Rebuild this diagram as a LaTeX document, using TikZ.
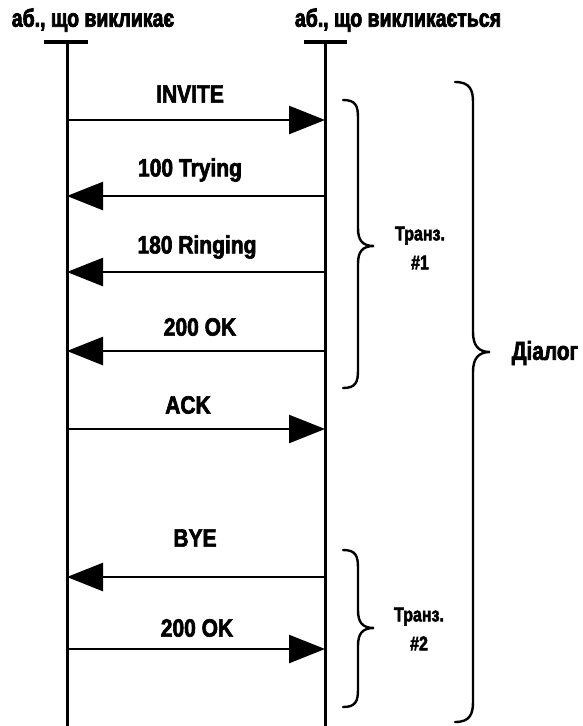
\documentclass[tikz,border=0pt]{standalone}
\usepackage{fontspec}
\setmainfont{Liberation Sans}
\newfontfamily\labfont{Liberation Sans Bold}[FakeStretch=0.84,FakeBold=2.5]
\newfontfamily\hdrfont{Liberation Sans Bold}[FakeStretch=0.78,FakeBold=3]
\newfontfamily\trfont{Liberation Sans Bold}[FakeStretch=0.8,FakeBold=2.5]
\usetikzlibrary{arrows.meta}
\begin{document}
\begin{tikzpicture}[x=1pt,y=-1pt,
  line/.style={line width=3pt},
  bar/.style={line width=4pt},
  msg/.style={line width=2.6pt,-{Triangle[length=36pt,width=28pt]}},
  lbl/.style={font=\labfont\fontsize{25}{27}\selectfont,inner sep=0pt},
  hdr/.style={font=\hdrfont\fontsize{25}{27}\selectfont,inner sep=0pt},
  brc/.style={line width=2.4pt,line cap=round},
  tr/.style={font=\trfont\fontsize{20}{29}\selectfont,align=center,inner sep=0pt}]
\useasboundingbox (0,0) rectangle (582,726);
% headers
\node[hdr] (hA) at (93,20) {аб., що викликає};
\node[hdr] (hB) at (398,20) {аб., що викликається};
% lifeline tops/bottoms
\coordinate (At) at (67,42); \coordinate (Ab) at (67,726);
\coordinate (Bt) at (325,42); \coordinate (Bb) at (325,726);
\draw[bar] (44,42) -- (88,42);
\draw[bar] (304,42) -- (347,42);
\draw[line] (At) -- (Ab);
\draw[line] (Bt) -- (Bb);
% message points
\foreach \n/\y in {1/120,2/196,3/272,4/351,5/429,6/577,7/649}{
  \coordinate (A\n) at (67,\y); \coordinate (B\n) at (325,\y);}
\draw[msg] (A1) -- (B1);
\draw[msg] (B2) -- (A2);
\draw[msg] (B3) -- (A3);
\draw[msg] (B4) -- (A4);
\draw[msg] (A5) -- (B5);
\draw[msg] (B6) -- (A6);
\draw[msg] (A7) -- (B7);
\node[lbl] (l1) at (190,94) {INVITE};
\node[lbl] (l2) at (190,170) {100 Trying};
\node[lbl] (l3) at (197,247) {180 Ringing};
\node[lbl] (l4) at (200,327) {200 OK};
\node[lbl] (l5) at (188,405) {ACK};
\node[lbl] (l6) at (195,538) {BYE};
\node[lbl] (l7) at (197,628) {200 OK};
% braces
\draw[brc] (343,100) .. controls (356,100) and (358,106) .. (358,118) -- (358,228)
  .. controls (358,240) and (362,246) .. (374,246)
  .. controls (362,246) and (358,252) .. (358,264) -- (358,370)
  .. controls (358,382) and (356,388) .. (343,388);
\draw[brc] (343,550) .. controls (356,550) and (358,556) .. (358,568) -- (358,610)
  .. controls (358,622) and (362,628) .. (374,628)
  .. controls (362,628) and (358,634) .. (358,646) -- (358,689)
  .. controls (358,701) and (356,707) .. (343,707);
\draw[brc] (455,82) .. controls (470,82) and (473,90) .. (473,102) -- (473,332)
  .. controls (473,345) and (478,352) .. (490,352)
  .. controls (478,352) and (473,359) .. (473,372) -- (473,702)
  .. controls (473,714) and (470,722) .. (455,722);
\node[tr] (t1) at (420,248) {Транз.\\\#1};
\node[tr] (t2) at (419,629) {Транз.\\\#2};
\node[font=\trfont\fontsize{26}{28}\selectfont,inner sep=0pt] (dl) at (545,353) {Діалог};
\end{tikzpicture}
\end{document}
